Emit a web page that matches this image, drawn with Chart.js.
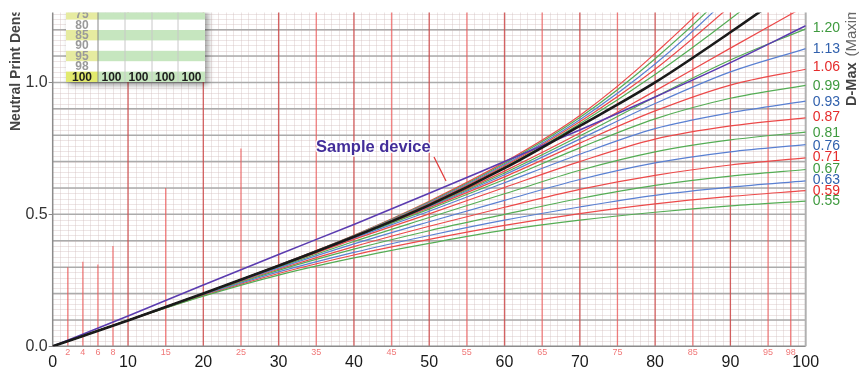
<!DOCTYPE html>
<html>
<head>
<meta charset="utf-8">
<script src="https://cdn.jsdelivr.net/npm/chart.js@4"></script>
<style>
  html, body { margin: 0; padding: 0; background: #fff; }
  #wrap { width: 860px; height: 370px; position: relative; }
</style>
</head>
<body>
<div id="wrap"><canvas id="densityChart"></canvas></div>
<script>
// dot percentage positions the curves were read at
const dotPct = [0, 10, 20, 30, 40, 50, 60, 70, 80, 90, 100];

// D-Max family (lowest first)
const dmax055 = [0, 0.098, 0.19, 0.27, 0.335, 0.39, 0.44, 0.478, 0.508, 0.532, 0.55];
const dmax059 = [0, 0.098, 0.192, 0.276, 0.346, 0.405, 0.458, 0.503, 0.54, 0.568, 0.59];
const dmax063 = [0, 0.098, 0.194, 0.282, 0.356, 0.42, 0.478, 0.528, 0.572, 0.603, 0.627];
const dmax067 = [0, 0.098, 0.196, 0.288, 0.368, 0.438, 0.5, 0.56, 0.61, 0.645, 0.67];
const dmax071 = [0, 0.098, 0.197, 0.292, 0.378, 0.455, 0.527, 0.595, 0.648, 0.687, 0.714];
const dmax076 = [0, 0.098, 0.198, 0.296, 0.388, 0.472, 0.553, 0.632, 0.695, 0.737, 0.764];
const dmax081 = [0, 0.098, 0.199, 0.299, 0.397, 0.488, 0.578, 0.667, 0.737, 0.782, 0.812];
const dmax087 = [0, 0.098, 0.2, 0.302, 0.405, 0.502, 0.602, 0.70, 0.785, 0.835, 0.866];
const dmax093 = [0, 0.098, 0.2, 0.304, 0.41, 0.512, 0.62, 0.728, 0.825, 0.885, 0.929];
const dmax099 = [0, 0.098, 0.2, 0.305, 0.413, 0.52, 0.632, 0.752, 0.862, 0.94, 0.989];
const dmax106 = [0, 0.098, 0.2, 0.305, 0.415, 0.525, 0.642, 0.77, 0.892, 0.99, 1.05];
const dmax113 = [0, 0.098, 0.2, 0.305, 0.415, 0.528, 0.65, 0.785, 0.92, 1.04, 1.128];
const dmax120 = [0, 0.098, 0.2, 0.305, 0.415, 0.53, 0.657, 0.797, 0.945, 1.085, 1.203];
const dmax127 = [0, 0.098, 0.2, 0.305, 0.415, 0.532, 0.664, 0.808, 0.968, 1.13, 1.29];
const dmax143 = [0, 0.098, 0.2, 0.306, 0.417, 0.538, 0.678, 0.843, 1.03, 1.24, 1.47];
const dmax152 = [0, 0.098, 0.2, 0.306, 0.418, 0.541, 0.683, 0.851, 1.05, 1.29, 1.55];
const dmax161 = [0, 0.098, 0.2, 0.307, 0.419, 0.544, 0.688, 0.859, 1.07, 1.33, 1.63];
const dmax171 = [0, 0.098, 0.2, 0.307, 0.42, 0.547, 0.693, 0.867, 1.09, 1.36, 1.72];
const dmax181 = [0, 0.098, 0.2, 0.308, 0.421, 0.55, 0.698, 0.875, 1.11, 1.40, 1.82];

// thick black reference and the sample device
const referenceCurve = [0, 0.098, 0.2, 0.305, 0.415, 0.535, 0.675, 0.835, 1.0, 1.19, 1.39];
const sampleDevice = [0, 0.115, 0.232, 0.348, 0.462, 0.58, 0.70, 0.82, 0.945, 1.075, 1.215];

const familyCurves = [dmax055, dmax059, dmax063, dmax067, dmax071, dmax076, dmax081, dmax087,
  dmax093, dmax099, dmax106, dmax113, dmax120, dmax127, dmax143, dmax152, dmax161, dmax171, dmax181];
const familyColors = ['g', 'r', 'b', 'g', 'r', 'b', 'g', 'r', 'b', 'g', 'r', 'b', 'g', 'r', 'g', 'r', 'b', 'g', 'r'];

// right hand labels and where they sit
const dmaxLabels = ['0.55', '0.59', '0.63', '0.67', '0.71', '0.76', '0.81', '0.87', '0.93', '0.99', '1.06', '1.13', '1.20'];
const dmaxLabelPos = [0.55, 0.588, 0.63, 0.672, 0.717, 0.759, 0.808, 0.868, 0.925, 0.985, 1.057, 1.128, 1.205];
const dmaxLabelColors = ['g', 'r', 'b', 'g', 'r', 'b', 'g', 'r', 'b', 'g', 'r', 'b', 'g'];

const xTicks = [0, 10, 20, 30, 40, 50, 60, 70, 80, 90, 100];
const yTicks = [0, 0.5, 1.0];

// red marker lines: position and how high they go
const markPct = [2, 4, 6, 8, 10, 15, 20, 25, 30, 35, 40, 45, 50, 55, 60, 65, 70, 75, 80, 85, 90, 95, 98];
const markTop = [0.3, 0.32, 0.31, 0.38, 1.265, 0.6, 1.265, 0.75, 1.265, 1.265, 1.265, 1.265, 1.265, 1.265,
  1.265, 1.265, 1.265, 1.265, 1.265, 1.265, 1.265, 1.265, 1.265];
const markLabels = [2, 4, 6, 8, 15, 25, 35, 45, 55, 65, 75, 85, 95, 98];

// inset table (top left)
const tableRows = ['75', '80', '85', '90', '95', '98', '100'];

const lineCol = { g: '#55ad55', r: '#ec4a4a', b: '#5a80d2' };
const textCol = { g: '#3f9a3f', r: '#e52b2b', b: '#3161ad' };
const fontFam = '"Liberation Sans", Arial, sans-serif';

const datasets = familyCurves.map((c, i) => ({
  data: dotPct.map((x, j) => ({ x, y: c[j] })),
  borderColor: lineCol[familyColors[i]],
  borderWidth: 1.2,
  order: 3
}));
datasets.push({
  data: dotPct.map((x, j) => ({ x, y: sampleDevice[j] })),
  borderColor: '#5b3cb0',
  borderWidth: 1.6,
  order: 1
});
datasets.push({
  data: dotPct.map((x, j) => ({ x, y: referenceCurve[j] })),
  borderColor: '#1a1a1a',
  borderWidth: 2.6,
  order: 0
});

const paperGrid = {
  id: 'paperGrid',
  beforeDatasetsDraw(chart) {
    const { ctx, chartArea: a, scales: { x, y } } = chart;
    ctx.save();
    // fine grid
    ctx.lineWidth = 1;
    ctx.strokeStyle = 'rgba(210,190,190,0.4)';
    for (let v = 1; v < 100; v++) {
      const px = Math.round(x.getPixelForValue(v)) + 0.5;
      ctx.beginPath(); ctx.moveTo(px, a.top); ctx.lineTo(px, a.bottom); ctx.stroke();
    }
    for (let v = 0.02; v < 1.27; v += 0.02) {
      const py = Math.round(y.getPixelForValue(v)) + 0.5;
      if (py < a.top) break;
      ctx.beginPath(); ctx.moveTo(a.left, py); ctx.lineTo(a.right, py); ctx.stroke();
    }
    // 0.1 lines
    ctx.strokeStyle = '#ababab';
    ctx.lineWidth = 1.5;
    for (let k = 1; k <= 12; k++) {
      const py = y.getPixelForValue(k / 10);
      ctx.beginPath(); ctx.moveTo(a.left, py); ctx.lineTo(a.right, py); ctx.stroke();
    }
    // red markers
    markPct.forEach((v, i) => {
      const px = x.getPixelForValue(v);
      ctx.strokeStyle = v % 10 === 0 ? 'rgba(205,70,70,0.85)' : 'rgba(238,80,80,0.7)';
      ctx.lineWidth = 1.3;
      ctx.beginPath(); ctx.moveTo(px, a.bottom); ctx.lineTo(px, Math.max(a.top, y.getPixelForValue(markTop[i]))); ctx.stroke();
    });
    // axes frame
    ctx.strokeStyle = '#8c8c8c';
    ctx.lineWidth = 1.5;
    ctx.beginPath(); ctx.moveTo(a.left, a.top); ctx.lineTo(a.left, a.bottom); ctx.lineTo(a.right, a.bottom); ctx.stroke();
    ctx.strokeStyle = '#b0b0b0';
    ctx.lineWidth = 2;
    ctx.beginPath(); ctx.moveTo(a.right, a.top); ctx.lineTo(a.right, a.bottom); ctx.stroke();
    ctx.restore();
  },
  afterDraw(chart) {
    const { ctx, chartArea: a, scales: { x, y } } = chart;
    ctx.save();
    // small red percentage labels
    ctx.font = '9px ' + fontFam;
    ctx.fillStyle = '#f07878';
    ctx.textAlign = 'center';
    ctx.textBaseline = 'middle';
    markLabels.forEach(v => ctx.fillText(String(v), x.getPixelForValue(v), a.bottom + 6.5));

    // D-Max labels at right
    ctx.font = '14px ' + fontFam;
    ctx.textAlign = 'left';
    dmaxLabels.forEach((t, i) => {
      ctx.fillStyle = textCol[dmaxLabelColors[i]];
      ctx.fillText(t, a.right + 7, y.getPixelForValue(dmaxLabelPos[i]));
    });

    // everything above the plot top is cropped away in the original
    ctx.save();
    ctx.beginPath(); ctx.rect(0, a.top, 860, 370); ctx.clip();

    // axis titles (run off the top of the picture)
    ctx.fillStyle = '#444';
    ctx.save();
    ctx.translate(16, 131);
    ctx.rotate(-Math.PI / 2);
    ctx.textAlign = 'left';
    ctx.font = 'bold 14px ' + fontFam;
    ctx.fillText('Neutral Print Density', 0, 0);
    ctx.restore();

    ctx.save();
    ctx.translate(852, 106);
    ctx.rotate(-Math.PI / 2);
    ctx.textAlign = 'left';
    ctx.font = 'bold 14.5px ' + fontFam;
    ctx.fillText('D-Max', 0, 0);
    const w = ctx.measureText('D-Max ').width;
    ctx.font = '15px ' + fontFam;
    ctx.fillStyle = '#666';
    ctx.fillText('(Maximum Density)', w + 2, 0);
    ctx.restore();

    // sample device callout
    ctx.strokeStyle = '#e23a3a';
    ctx.lineWidth = 1.3;
    ctx.beginPath(); ctx.moveTo(434, 157); ctx.lineTo(446, 181); ctx.stroke();
    ctx.font = 'bold 16.5px ' + fontFam;
    ctx.textAlign = 'left';
    ctx.lineJoin = 'round';
    ctx.strokeStyle = 'rgba(255,255,255,0.9)';
    ctx.lineWidth = 3;
    ctx.strokeText('Sample device', 316, 147);
    ctx.fillStyle = '#432d99';
    ctx.fillText('Sample device', 316, 147);

    // inset table
    const tx = 66, tw = 139, rowH = 10.4, bottomY = 82;
    const topY = bottomY - rowH * tableRows.length;
    ctx.shadowColor = 'rgba(0,0,0,0.4)';
    ctx.shadowBlur = 6;
    ctx.shadowOffsetX = 3;
    ctx.shadowOffsetY = 3;
    ctx.fillStyle = '#fff';
    ctx.fillRect(tx, topY, tw, bottomY - topY);
    ctx.shadowColor = 'transparent';
    const colEdges = [66, 98, 125, 152, 178, 205];
    tableRows.forEach((r, i) => {
      const ry = topY + i * rowH;
      const shaded = i % 2 === 0;
      const last = i === tableRows.length - 1;
      if (shaded) {
        ctx.fillStyle = last ? '#e2ea6e' : '#e6eba0';
        ctx.fillRect(colEdges[0], ry, colEdges[1] - colEdges[0], rowH);
        ctx.fillStyle = '#c6e6bf';
        ctx.fillRect(colEdges[1], ry, colEdges[5] - colEdges[1], rowH);
      }
      ctx.textAlign = 'center';
      ctx.font = 'bold 12px ' + fontFam;
      ctx.fillStyle = last ? '#1e1e1e' : '#9a9a9a';
      ctx.fillText(r, (colEdges[0] + colEdges[1]) / 2, ry + rowH / 2 + 0.5);
      if (last) {
        for (let c = 1; c < 5; c++) ctx.fillText('100', (colEdges[c] + colEdges[c + 1]) / 2, ry + rowH / 2 + 0.5);
      }
    });
    ctx.strokeStyle = '#c8c8c8';
    ctx.lineWidth = 1;
    colEdges.slice(2, 5).forEach(cx => { ctx.beginPath(); ctx.moveTo(cx, topY); ctx.lineTo(cx, bottomY); ctx.stroke(); });
    ctx.strokeStyle = '#888';
    ctx.beginPath(); ctx.moveTo(98, topY); ctx.lineTo(98, bottomY); ctx.stroke();
    ctx.restore();

    ctx.restore();
  }
};

new Chart(document.getElementById('densityChart'), {
  type: 'line',
  data: { datasets },
  options: {
    responsive: true,
    maintainAspectRatio: false,
    animation: false,
    events: [],
    layout: { padding: { top: 12.5, right: 54.3, left: 0, bottom: 0 } },
    elements: {
      point: { radius: 0 },
      line: { cubicInterpolationMode: 'monotone', fill: false }
    },
    plugins: { legend: { display: false }, tooltip: { enabled: false } },
    scales: {
      x: {
        type: 'linear',
        min: 0,
        max: 100,
        afterFit: s => { s.height = 23.7; },
        afterBuildTicks: s => { s.ticks = xTicks.map(v => ({ value: v })); },
        grid: { display: false, drawTicks: false },
        border: { display: false },
        ticks: {
          color: '#1a1a1a',
          padding: 7,
          maxRotation: 0,
          font: { size: 16, family: fontFam }
        }
      },
      y: {
        type: 'linear',
        min: 0,
        max: 1.265,
        afterFit: s => { s.width = 52.7; },
        afterBuildTicks: s => { s.ticks = yTicks.map(v => ({ value: v })); },
        grid: { display: true, drawOnChartArea: false, drawTicks: true, tickLength: 4, color: '#888' },
        border: { display: false },
        ticks: {
          color: '#333',
          padding: 1,
          callback: v => v.toFixed(1),
          font: { size: 16, family: fontFam }
        }
      }
    }
  },
  plugins: [paperGrid]
});
</script>
</body>
</html>
